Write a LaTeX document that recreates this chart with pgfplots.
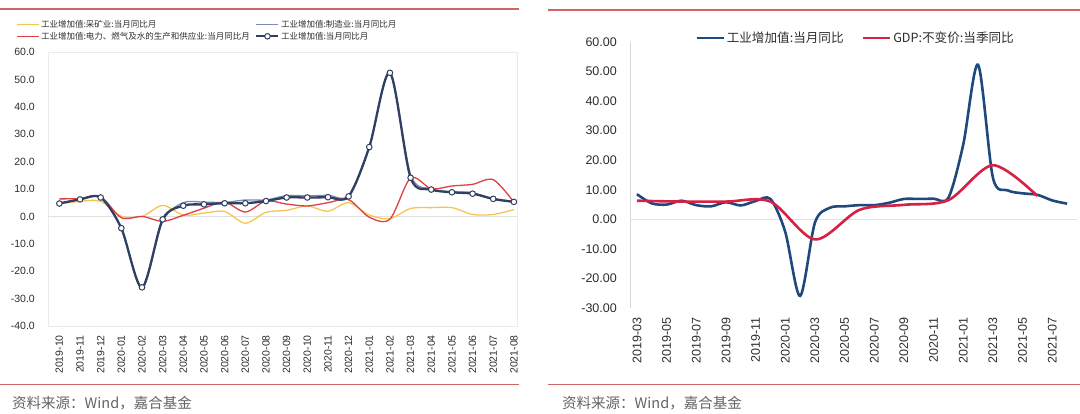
\documentclass[border=0pt]{standalone}
\usepackage{fontspec}
\setmainfont{Liberation Sans}
\newfontfamily\cjk{Noto Sans CJK SC}
\usepackage{pgfplots}
\pgfplotsset{compat=1.18}
\definecolor{minecol}{RGB}{246,196,80}
\definecolor{mfgcol}{RGB}{122,139,180}
\definecolor{powcol}{RGB}{222,64,70}
\definecolor{totcol}{RGB}{47,64,98}
\definecolor{rblue}{RGB}{31,73,125}
\definecolor{rred}{RGB}{214,32,68}
\definecolor{rulecol}{RGB}{208,100,100}
\definecolor{srcgray}{RGB}{100,100,100}
\definecolor{labcol}{RGB}{45,45,45}
\definecolor{framecol}{RGB}{235,235,235}
\definecolor{zerocol}{RGB}{225,225,225}
\definecolor{axcol}{RGB}{215,215,215}
\begin{document}
\begin{tikzpicture}
\path[use as bounding box] (0pt,0pt) rectangle (1080pt,413pt);
\draw[rulecol, line width=1.2pt] (0pt,404pt) -- (519pt,404pt);
\draw[rulecol, line width=1.2pt] (548pt,403pt) -- (1080pt,403pt);
\draw[rulecol, line width=1pt] (0pt,28.5pt) -- (519pt,28.5pt);
\draw[rulecol, line width=1pt] (548pt,28.5pt) -- (1080pt,28.5pt);
\node[anchor=west, text=srcgray, font=\cjk\fontsize{14.5}{16}\selectfont, inner sep=0pt] at (12pt,9.5pt) {资料来源：Wind，嘉合基金};
\node[anchor=west, text=srcgray, font=\cjk\fontsize{14.5}{16}\selectfont, inner sep=0pt] at (562pt,9.5pt) {资料来源：Wind，嘉合基金};

\begin{axis}[
  at={(48pt,87pt)}, anchor=south west, scale only axis,
  width=469pt, height=274pt,
  xmin=-0.55, xmax=22.15, ymin=-40, ymax=60,
  xtick={0,...,22},
  xticklabels={2019-10,2019-11,2019-12,2020-01,2020-02,2020-03,2020-04,2020-05,2020-06,2020-07,2020-08,2020-09,2020-10,2020-11,2020-12,2021-01,2021-02,2021-03,2021-04,2021-05,2021-06,2021-07,2021-08},
  ytick={-40,-30,...,60},
  major tick length=0pt,
  axis line style={draw=framecol},
  /pgf/number format/assume math mode=true,
  tick label style={font=\fontsize{10.5}{12}\selectfont, text=labcol, inner sep=0pt},
  xticklabel style={rotate=90, anchor=east},
  yticklabel style={/pgf/number format/fixed, /pgf/number format/fixed zerofill, /pgf/number format/precision=1},
  xticklabel shift=9pt, yticklabel shift=13pt,
  extra y ticks={0}, extra y tick labels={},
  extra y tick style={grid=major, major grid style={draw=zerocol, line width=0.6pt}},
  legend columns=2,
  legend cell align=left,
  legend style={at={(-0.068,1.122)}, anchor=north west, draw=none, fill=none, inner sep=0pt,
    font=\cjk\fontsize{8.5}{10}\selectfont, text=labcol,
    nodes={inner sep=1.5pt},
    /tikz/every even column/.append style={column sep=4pt}},
  legend image code/.code={\draw[mark repeat=2,mark phase=2,#1] plot coordinates {(0pt,0pt) (11pt,0pt) (22pt,0pt)};},
]
\addplot[minecol, line width=1.3pt, smooth, no markers] coordinates {
(0,4.5) (1,5.5) (2,5.5) (3,0.0) (4,0.0) (5,4.0) (6,0.5) (7,1.2) (8,1.8) (9,-2.5) (10,1.5) (11,2.2) (12,3.8) (13,1.9) (14,5.0) (15,0.5) (16,-0.8) (17,2.9) (18,3.2) (19,3.2) (20,0.7) (21,0.7) (22,2.5)};
\addlegendentry{工业增加值:采矿业:当月同比月}
\addplot[mfgcol, line width=1.3pt, smooth, no markers] coordinates {
(0,4.6) (1,6.3) (2,7.0) (3,-4.6) (4,-26.2) (5,-1.8) (6,5.0) (7,5.2) (8,5.1) (9,6.0) (10,6.0) (11,7.6) (12,7.5) (13,7.7) (14,7.7) (15,25.5) (16,52.6) (17,15.2) (18,10.0) (19,9.0) (20,8.7) (21,6.2) (22,5.3)};
\addlegendentry{工业增加值:制造业:当月同比月}
\addplot[powcol, line width=1.3pt, smooth, no markers] coordinates {
(0,6.4) (1,6.5) (2,7.2) (3,-0.5) (4,0.0) (5,-1.8) (6,0.4) (7,3.0) (8,5.2) (9,1.6) (10,5.6) (11,4.5) (12,3.8) (13,5.0) (14,6.1) (15,-0.3) (16,-1.0) (17,14.0) (18,10.1) (19,11.1) (20,11.7) (21,13.4) (22,5.2)};
\addlegendentry{工业增加值:电力、燃气及水的生产和供应业:当月同比月}
\addplot[totcol, line width=2.3pt, smooth, mark=*, mark size=2.8pt, mark options={fill=white, draw=totcol, line width=1pt}] coordinates {
(0,4.7) (1,6.2) (2,6.9) (3,-4.3) (4,-25.9) (5,-1.1) (6,3.9) (7,4.4) (8,4.8) (9,4.8) (10,5.6) (11,6.9) (12,6.9) (13,7.0) (14,7.3) (15,25.3) (16,52.4) (17,14.1) (18,9.8) (19,8.8) (20,8.3) (21,6.4) (22,5.3)};
\addlegendentry{工业增加值:当月同比月}
\end{axis}

\begin{axis}[
  at={(630pt,105pt)}, anchor=south west, scale only axis,
  width=447pt, height=266pt,
  xmin=-0.47, xmax=29.67, ymin=-30, ymax=60,
  xtick={0,2,...,28},
  xticklabels={2019-03,2019-05,2019-07,2019-09,2019-11,2020-01,2020-03,2020-05,2020-07,2020-09,2020-11,2021-01,2021-03,2021-05,2021-07},
  ytick={-30,-20,...,60},
  axis lines*=left,
  x axis line style={draw=none},
  y axis line style={draw=axcol},
  major tick length=0pt,
  /pgf/number format/assume math mode=true,
  tick label style={font=\fontsize{12.5}{14}\selectfont, text=labcol, inner sep=0pt},
  xticklabel style={rotate=90, anchor=east},
  yticklabel style={/pgf/number format/fixed, /pgf/number format/fixed zerofill, /pgf/number format/precision=2},
  xticklabel shift=9pt, yticklabel shift=13pt,
  extra y ticks={0}, extra y tick labels={},
  extra y tick style={grid=major, major grid style={draw=zerocol, line width=0.6pt}},
  legend columns=2,
  legend cell align=left,
  legend style={at={(0.1465,1.015)}, anchor=west, draw=none, fill=none, inner sep=0pt,
    font=\cjk\fontsize{12.6}{14}\selectfont, text=labcol,
    nodes={inner sep=1.5pt},
    /tikz/every even column/.append style={column sep=17pt}},
  legend image code/.code={\draw[#1] (0pt,0pt) -- (27pt,0pt);},
]
\addplot[rblue, line width=2.6pt, smooth, no markers] coordinates {
(0,8.5) (1,5.4) (2,5.0) (3,6.3) (4,4.8) (5,4.4) (6,5.8) (7,4.7) (8,6.2) (9,6.9) (10,-4.3) (11,-25.9) (12,-1.1) (13,3.9) (14,4.4) (15,4.8) (16,4.8) (17,5.6) (18,6.9) (19,6.9) (20,7.0) (21,7.3) (22,25.3) (23,52.3) (24,14.1) (25,9.8) (26,8.8) (27,8.3) (28,6.4) (29,5.3)};
\addlegendentry{工业增加值:当月同比}
\addplot[rred, line width=2.6pt, smooth, no markers] coordinates {
(0,6.3) (3,6.0) (6,6.0) (9,6.0) (12,-6.8) (15,3.2) (18,4.9) (21,6.5) (24,18.3) (27,7.9)};
\addlegendentry{GDP:不变价:当季同比}
\end{axis}
\end{tikzpicture}
\end{document}
